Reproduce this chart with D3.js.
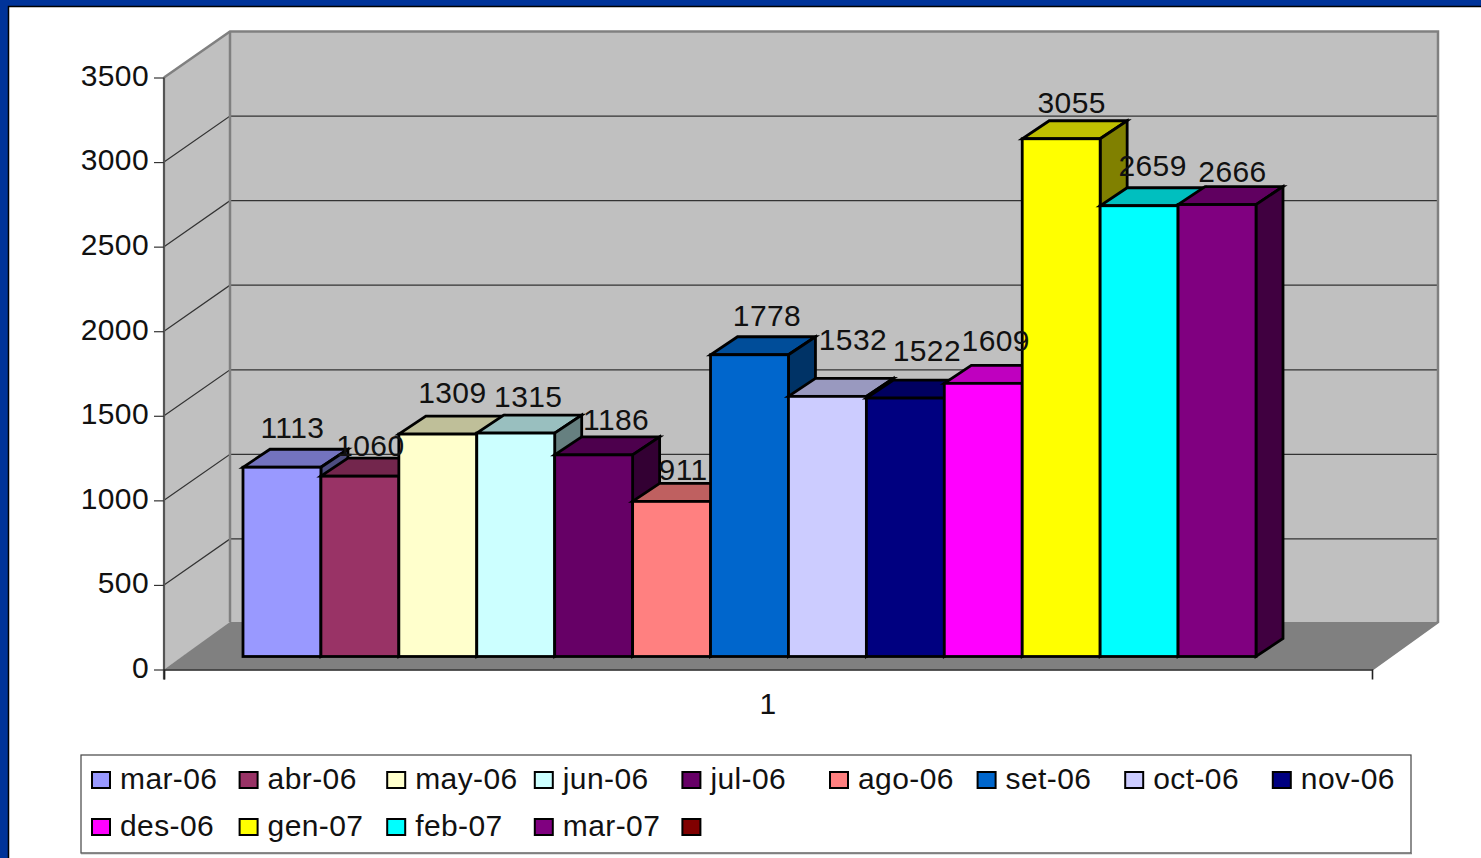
<!DOCTYPE html>
<html>
<head>
<meta charset="utf-8">
<script src="https://d3js.org/d3.v7.min.js"></script>
<style>
  html, body { margin: 0; padding: 0; background: #fff; overflow: hidden; }
  text { font-family: "Liberation Sans", Arial, sans-serif; fill: #111; letter-spacing: 0.4px; }
</style>
</head>
<body>
<svg id="chart" width="1481" height="858"></svg>
<script>
// data
const months = ["mar-06", "abr-06", "may-06", "jun-06", "jul-06", "ago-06", "set-06", "oct-06", "nov-06", "des-06", "gen-07", "feb-07", "mar-07"];
const values = [1113, 1060, 1309, 1315, 1186, 911, 1778, 1532, 1522, 1609, 3055, 2659, 2666];
const barColors = ["#9999ff", "#993366", "#ffffcc", "#ccffff", "#660066", "#ff8080", "#0066cc", "#ccccff", "#000080", "#ff00ff", "#ffff00", "#00ffff", "#800080"];
const yTicks = [0, 500, 1000, 1500, 2000, 2500, 3000, 3500];
const xCategory = ["1"];
// the 14th legend entry has a swatch but no name
const legendNames = months.concat([""]);
const legendColors = barColors.concat(["#800000"]);
// data labels were hand placed in the original, so each one gets a nudge
const labelDx = [0, 0, 4, 2, 12, 1, 7, 15, 11, 2, 0, 3, 5];
const labelDy = [-1, 8, -3, 2, 3, 7, -1, -18, -9, -4, 2, -2, 5];

const svg = d3.select("#chart");
const depth = { x: 66, y: -46 };
const floorBack = -47.5;
const barDepth = { x: 27, y: -18 };

const y = d3.scaleLinear().domain([0, 3500]).range([669.5, 77.5]);
const xOuter = d3.scaleBand().domain(xCategory).range([164, 1372]);
const x = d3.scaleBand().domain(d3.range(months.length)).range([243, 1256]);
const barBase = y(0) - 13;
const barTop = v => y(v) - 14;

const shade = (c, k) => {
  const r = d3.rgb(c);
  return d3.rgb(r.r * k, r.g * k, r.b * k).formatHex();
};
const poly = pts => pts.map(p => p.join(",")).join(" ");

// slide frame
svg.append("rect").attr("width", 1481).attr("height", 858).attr("fill", "#003399");
svg.append("rect").attr("x", 8.5).attr("y", 6.5).attr("width", 1490).attr("height", 870)
  .attr("fill", "#fff").attr("stroke", "#000").attr("stroke-width", 1.5);

// walls and floor
const x0 = xOuter.range()[0], x1 = xOuter.range()[1];
svg.append("polygon").attr("fill", "#c0c0c0")
  .attr("points", poly([[x0 + depth.x, y(3500) + depth.y], [x1 + depth.x, y(3500) + depth.y], [x1 + depth.x, y(0) + depth.y], [x0 + depth.x, y(0) + depth.y]]));
svg.append("polygon").attr("fill", "#c0c0c0")
  .attr("points", poly([[x0, y(3500)], [x0 + depth.x, y(3500) + depth.y], [x0 + depth.x, y(0) + depth.y], [x0, y(0)]]));

// gridlines, running along the side wall and then the back wall
svg.append("g").selectAll("polyline")
  .data(yTicks.filter(d => d > 0 && d < 3500))
  .join("polyline")
    .attr("fill", "none")
    .attr("stroke", "#333")
    .attr("stroke-width", 1.2)
    .attr("points", d => poly([[x0, y(d)], [x0 + depth.x, y(d) + depth.y], [x1 + depth.x, y(d) + depth.y]]));

// wall edges
svg.append("polyline").attr("fill", "none").attr("stroke", "#808080").attr("stroke-width", 2.5)
  .attr("points", poly([[x0, y(3500)], [x0 + depth.x, y(3500) + depth.y], [x1 + depth.x, y(3500) + depth.y], [x1 + depth.x, y(0) + floorBack], [x1, y(0)]]));
svg.append("line").attr("stroke", "#808080").attr("stroke-width", 2.5)
  .attr("x1", x0 + depth.x).attr("x2", x0 + depth.x)
  .attr("y1", y(3500) + depth.y).attr("y2", y(0) + floorBack);

svg.append("polygon").attr("fill", "#808080")
  .attr("points", poly([[x0, y(0)], [x1, y(0)], [x1 + depth.x, y(0) + floorBack], [x0 + depth.x, y(0) + floorBack]]));

// bars, left to right so each one covers the side of the previous
const bars = svg.append("g").selectAll("g")
  .data(values)
  .join("g")
    .attr("stroke", "#000")
    .attr("stroke-width", 2.8)
    .attr("stroke-linejoin", "miter");

bars.append("polygon")
  .attr("fill", (d, i) => shade(barColors[i], 0.75))
  .attr("points", (d, i) => {
    const l = x(i), r = l + x.bandwidth(), t = barTop(d);
    return poly([[l, t], [r, t], [r + barDepth.x, t + barDepth.y], [l + barDepth.x, t + barDepth.y]]);
  });
bars.append("polygon")
  .attr("fill", (d, i) => shade(barColors[i], 0.5))
  .attr("points", (d, i) => {
    const r = x(i) + x.bandwidth(), t = barTop(d);
    return poly([[r, t], [r + barDepth.x, t + barDepth.y], [r + barDepth.x, barBase + barDepth.y], [r, barBase]]);
  });
bars.append("rect")
  .attr("fill", (d, i) => barColors[i])
  .attr("x", (d, i) => x(i))
  .attr("y", d => barTop(d))
  .attr("width", x.bandwidth())
  .attr("height", d => barBase - barTop(d));

// data labels
svg.append("g").selectAll("text")
  .data(values)
  .join("text")
    .attr("text-anchor", "middle")
    .attr("font-size", 30)
    .attr("x", (d, i) => x(i) + x.bandwidth() / 2 + barDepth.x / 2 - 3 + labelDx[i])
    .attr("y", (d, i) => barTop(d) + barDepth.y - 10 + labelDy[i])
    .text(d => d);

// axes
const yAxis = svg.append("g")
  .attr("transform", `translate(${x0},0)`)
  .call(d3.axisLeft(y).tickValues(yTicks).tickSize(10).tickSizeOuter(0).tickPadding(5).tickFormat(d3.format("d")));
yAxis.select(".domain").attr("stroke", "#555").attr("stroke-width", 2.2).attr("d", `M0,${y(3500)}V${y(0) + 10}`);
yAxis.selectAll(".tick line").attr("stroke", "#333").attr("stroke-width", 1.2);
yAxis.selectAll(".tick text").attr("font-size", 30).attr("dy", "0.26em").attr("fill", "#111").attr("font-family", null);

const xAxis = svg.append("g")
  .attr("transform", `translate(0,${y(0)})`)
  .call(d3.axisBottom(xOuter).tickSize(0).tickSizeOuter(10).tickPadding(23));
xAxis.select(".domain").attr("stroke", "#222").attr("stroke-width", 1.6);
xAxis.selectAll(".tick text").attr("font-size", 30).attr("fill", "#111").attr("font-family", null);

// legend
svg.append("rect").attr("x", 81).attr("y", 755).attr("width", 1330).attr("height", 98)
  .attr("fill", "#fff").attr("stroke", "#444").attr("stroke-width", 1.2);
svg.append("line").attr("x1", 81).attr("x2", 1412).attr("y1", 853.5).attr("y2", 853.5)
  .attr("stroke", "#808080").attr("stroke-width", 1.5);

const legendCol = d3.scaleLinear().domain([0, 1]).range([92, 239.6]);
const legendRow = d3.scaleLinear().domain([0, 1]).range([772, 819]);
const legendItems = svg.append("g").selectAll("g")
  .data(legendNames)
  .join("g")
    .attr("transform", (d, i) => `translate(${legendCol(i % 9)},${legendRow(Math.floor(i / 9))})`);
legendItems.append("rect")
  .attr("width", 18).attr("height", 16)
  .attr("fill", (d, i) => legendColors[i])
  .attr("stroke", "#000").attr("stroke-width", 2);
legendItems.append("text")
  .attr("x", 28).attr("y", 17)
  .attr("font-size", 30)
  .text(d => d);
</script>
</body>
</html>
